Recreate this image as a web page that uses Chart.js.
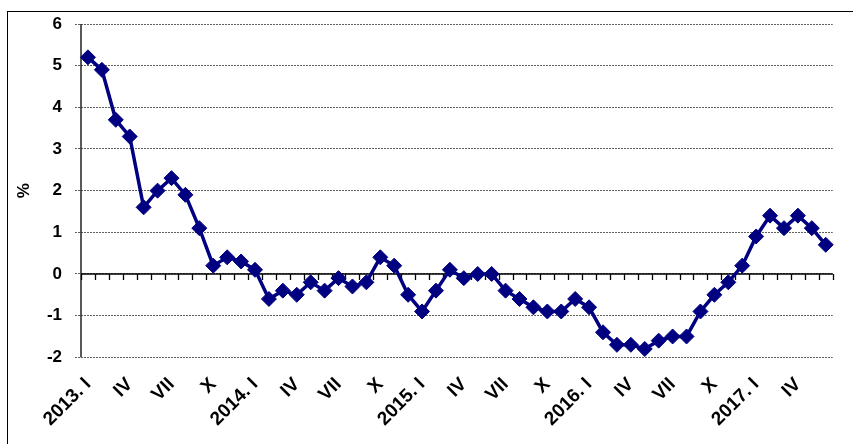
<!DOCTYPE html>
<html><head><meta charset="utf-8">
<script src="https://cdn.jsdelivr.net/npm/chart.js@4.4.0/dist/chart.umd.min.js"></script>
<style>
html,body{margin:0;padding:0;background:#fff;overflow:hidden}
#wrap{position:relative;width:853px;height:444px}
#frame{position:absolute;left:7px;top:11px;width:900px;height:500px;border:1.5px solid #000;pointer-events:none}
canvas{display:block}
</style></head><body>
<div id="wrap"><canvas id="c" width="853" height="444"></canvas><div id="frame"></div></div>
<script>
const categories = [
 '2013. I','II','III','IV','V','VI','VII','VIII','IX','X','XI','XII',
 '2014. I','II','III','IV','V','VI','VII','VIII','IX','X','XI','XII',
 '2015. I','II','III','IV','V','VI','VII','VIII','IX','X','XI','XII',
 '2016. I','II','III','IV','V','VI','VII','VIII','IX','X','XI','XII',
 '2017. I','II','III','IV','V','VI'
];
const values = [
 5.2, 4.9, 3.7, 3.3, 1.6, 2.0, 2.3, 1.9, 1.1, 0.2, 0.4, 0.3,
 0.1, -0.6, -0.4, -0.5, -0.2, -0.4, -0.1, -0.3, -0.2, 0.4, 0.2, -0.5,
 -0.9, -0.4, 0.1, -0.1, 0.0, 0.0, -0.4, -0.6, -0.8, -0.9, -0.9, -0.6,
 -0.8, -1.4, -1.7, -1.7, -1.8, -1.6, -1.5, -1.5, -0.9, -0.5, -0.2, 0.2,
 0.9, 1.4, 1.1, 1.4, 1.1, 0.7
];
const yTicks = [-2, -1, 0, 1, 2, 3, 4, 5, 6];
const yTitle = '%';

const axisPlugin = {
  id: 'axes',
  beforeDatasetsDraw(chart) {
    const {ctx, chartArea: a, scales: {x, y}} = chart;
    const y0 = y.getPixelForValue(0);
    ctx.save();
    ctx.strokeStyle = '#000';
    ctx.lineWidth = 1.3;
    ctx.beginPath();
    ctx.moveTo(a.left, a.top); ctx.lineTo(a.left, a.bottom);
    ctx.moveTo(a.left, y0); ctx.lineTo(a.right, y0);
    const step = x.getPixelForValue(1) - x.getPixelForValue(0);
    const start = x.getPixelForValue(0) - step / 2;
    for (let i = 0; i <= categories.length; i++) {
      const px = Math.round(start + i * step) + 0.5;
      ctx.moveTo(px, y0); ctx.lineTo(px, y0 + 6);
    }
    ctx.stroke();
    ctx.restore();
  }
};

new Chart(document.getElementById('c'), {
  type: 'line',
  data: {
    labels: categories,
    datasets: [{
      data: values,
      borderColor: '#000080',
      backgroundColor: '#000080',
      borderWidth: 3.5,
      pointStyle: 'rectRot',
      pointRadius: 7.5,
      pointBackgroundColor: '#000080',
      pointBorderColor: '#000080',
      pointBorderWidth: 1,
      tension: 0
    }]
  },
  options: {
    responsive: false,
    animation: false,
    devicePixelRatio: 1,
    layout: {padding: {left: 10, right: 20.3, top: 24, bottom: 0}},
    plugins: {legend: {display: false}, tooltip: {enabled: false}},
    scales: {
      x: {
        type: 'category',
        offset: true,
        grid: {display: false, drawTicks: false},
        border: {display: false},
        ticks: {
          autoSkip: false, maxRotation: 45, minRotation: 45, padding: 16,
          color: '#000',
          font: {family: 'Liberation Sans', size: 19, weight: 'bold'},
          callback: (v, i) => (i % 3 === 0 ? categories[i] : '')
        },
        afterFit: s => { s.height = 86.7; s.paddingLeft = 0; s.paddingRight = 0; }
      },
      y: {
        min: -2, max: 6,
        afterBuildTicks: s => { s.ticks = yTicks.map(v => ({value: v})); },
        grid: {color: '#606060', lineWidth: 1, tickLength: 6, drawTicks: true, tickBorderDash: [2, 1]},
        border: {display: false, dash: [2, 1]},
        ticks: {
          padding: 13, color: '#000',
          font: {family: 'Liberation Sans', size: 17, weight: 'bold'}
        },
        title: {
          display: true, text: yTitle, color: '#000',
          font: {family: 'Liberation Sans', size: 17, weight: 'bold'}
        },
        afterFit: s => { s.width = 71; s.paddingTop = 0; s.paddingBottom = 0; }
      }
    }
  },
  plugins: [axisPlugin]
});
</script>
</body></html>
